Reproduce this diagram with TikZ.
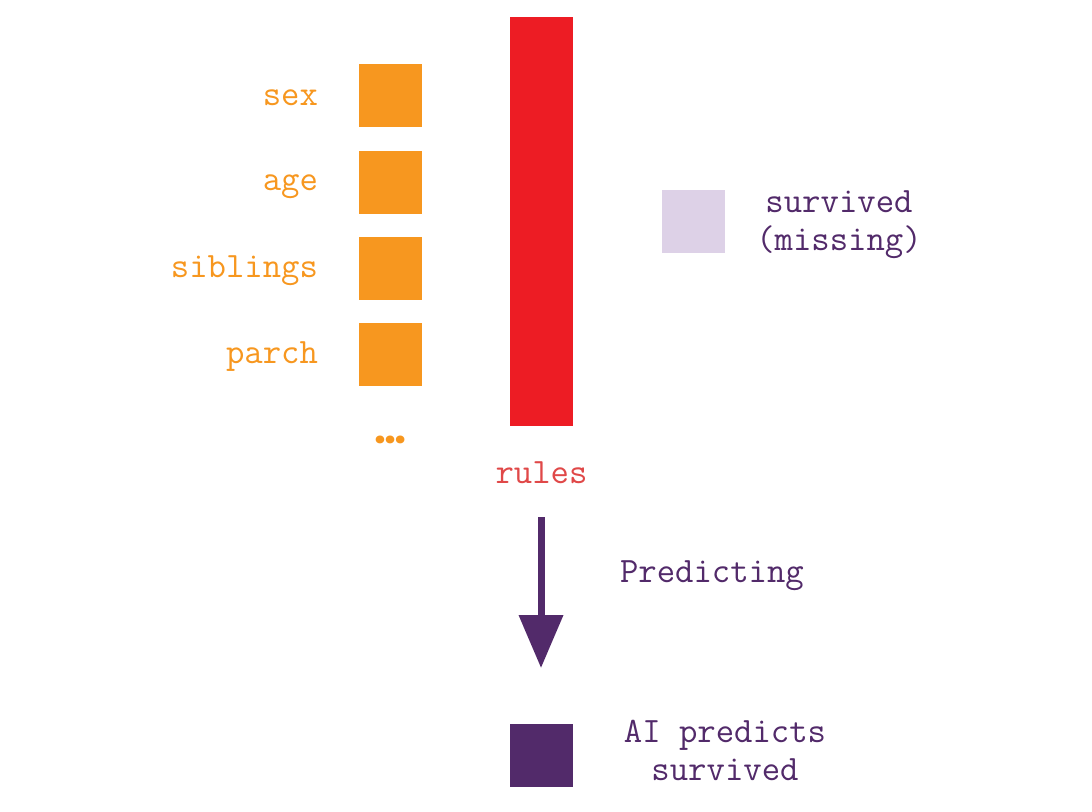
\documentclass[tikz,border=0pt]{standalone}
\usepackage{fontspec}
\newfontfamily\dotsfont{Poppins}
\usetikzlibrary{arrows.meta}
\definecolor{feat}{HTML}{F7971F}
\definecolor{rulered}{HTML}{ED1C24}
\definecolor{rulelab}{HTML}{E04848}
\definecolor{deep}{HTML}{522A6A}
\definecolor{pale}{HTML}{DDD1E7}
\tikzset{
  sq/.style={minimum width=63pt,minimum height=63pt,inner sep=0pt,outer sep=0pt},
  featbox/.style={sq,fill=feat},
  lab/.style={font=\ttfamily\fontsize{35.7}{38}\selectfont,inner sep=0pt,outer sep=0pt},
  featlab/.style={lab,text=feat,anchor=base east},
}
\begin{document}
\begin{tikzpicture}[x=1pt,y=-1pt]
\useasboundingbox[fill=white] (0,0) rectangle (1092,811);
% feature boxes
\node[featbox] (sex) at (390.5,95.5) {};
\node[featbox] (age) at (390.5,182.5) {};
\node[featbox] (sib) at (390.5,268.5) {};
\node[featbox] (par) at (390.5,354.5) {};
\node[featlab] (sexl) at (318,105) {sex};
\node[featlab] (agel) at (318,190) {age};
\node[featlab] (sibl) at (318,277) {siblings};
\node[featlab] (parl) at (318,363) {parch};
\node[inner sep=0pt,text=feat,font=\dotsfont\bfseries\fontsize{42}{42}\selectfont,anchor=base] (dots) at (390,443) {…};
% rules bar
\node[sq,fill=rulered,minimum height=409pt] (rules) at (541.5,221.5) {};
\node[lab,text=rulelab,anchor=base] (rulesl) at (541.5,483) {rules};
% missing target
\node[sq,fill=pale] (miss) at (693,221.5) {};
\node[lab,text=deep,align=center,anchor=base] (missl) at (839,250) {survived\\(missing)};
% arrow
\coordinate (astart) at (541,517);
\coordinate (aend) at (541,668);
\draw[deep,line width=7pt,-{Triangle[width=43pt,length=53pt]}] (astart) -- (aend);
\node[lab,text=deep,anchor=base west] (pred) at (620,582) {Predicting};
% prediction
\node[sq,fill=deep] (ai) at (541.5,755.5) {};
\node[lab,text=deep,align=center,anchor=base] (ail) at (725,780) {AI predicts\\survived};
\end{tikzpicture}
\end{document}
